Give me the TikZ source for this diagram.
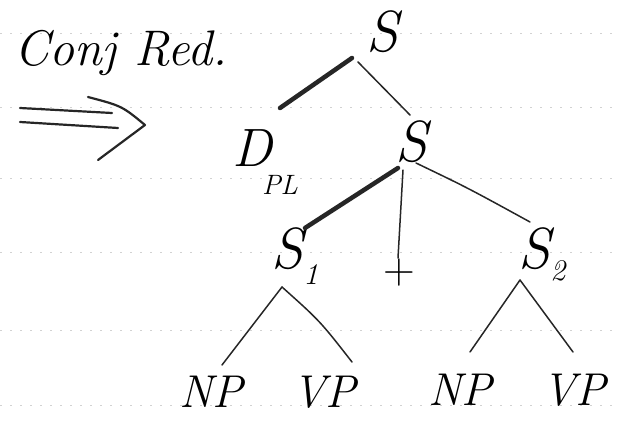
\documentclass[tikz,border=0pt]{standalone}
\begin{document}
\begin{tikzpicture}[x=1pt,y=-1pt,
  rule/.style={gray!35, line width=0.6pt, dash pattern=on 2pt off 8pt},
  ink/.style={black!85, line cap=round, line join=round},
  heavy/.style={ink, line width=4.5pt},
  branch/.style={ink, line width=1.5pt},
  big/.style={inner sep=0pt, font=\fontsize{58}{58}\selectfont\itshape},
  cat/.style={inner sep=0pt, font=\fontsize{46}{46}\selectfont\itshape},
  title/.style={inner sep=0pt, font=\fontsize{50}{50}\selectfont\itshape}]
\useasboundingbox (0,0) rectangle (618,433);
\foreach \yy in {33,107,178,252,330,405} \draw[rule] (0,\yy) -- (618,\yy);
% title and arrow
\node[title, anchor=base west] (title) at (14,66) {Conj Red.};
\coordinate (a1) at (20,108); \coordinate (a2) at (112,113);
\coordinate (b1) at (20,122); \coordinate (b2) at (118,128);
\coordinate (c1) at (88,97); \coordinate (c2) at (145,125); \coordinate (c3) at (98,160);
\draw[branch, line width=2.2pt] (a1) -- (a2);
\draw[branch, line width=2.2pt] (b1) -- (b2);
\draw[branch, line width=2.2pt] (c1) .. controls (122,106) .. (c2) -- (c3);
% tree nodes
\node[big] (S0) at (382,32) {S};
\node[big, font=\fontsize{54}{54}\selectfont\itshape] (D) at (265,162) {D\kern-10pt\raisebox{-28pt}{\fontsize{28}{28}\selectfont PL}};
\node[big] (S) at (411,142) {S};
\node[big] (S1) at (295,256) {S\raisebox{-16pt}{\fontsize{30}{30}\selectfont 1}};
\node[big, font=\fontsize{44}{44}\selectfont] (plus) at (399,273) {+};
\node[big] (S2) at (542,254) {S\raisebox{-12pt}{\fontsize{30}{30}\selectfont 2}};
\node[cat] (NP1) at (211,392) {NP};
\node[cat] (VP1) at (324,392) {VP};
\node[cat] (NP2) at (460,390) {NP};
\node[cat] (VP2) at (574,390) {VP};
% branches
\draw[heavy] ([shift={(-30,26)}]S0.center) -- ([shift={(15,-54)}]D.center);
\draw[branch] ([shift={(-24,30)}]S0.center) -- ([shift={(-1,-27)}]S.center);
\draw[heavy] ([shift={(-13,26)}]S.center) -- ([shift={(10,-28)}]S1.center);
\draw[branch] ([shift={(-8,28)}]S.center) -- ([shift={(-1,-15)}]plus.center);
\draw[branch] ([shift={(5,21)}]S.center) .. controls (468,188) .. ([shift={(-12,-32)}]S2.center);
\draw[branch] ([shift={(-13,31)}]S1.center) -- ([shift={(11,-27)}]NP1.center);
\draw[branch] ([shift={(-13,31)}]S1.center) .. controls (320,321) .. ([shift={(28,-30)}]VP1.center);
\draw[branch] ([shift={(-22,26)}]S2.center) -- ([shift={(10,-38)}]NP2.center);
\draw[branch] ([shift={(-22,26)}]S2.center) -- ([shift={(-1,-38)}]VP2.center);
\end{tikzpicture}
\end{document}
